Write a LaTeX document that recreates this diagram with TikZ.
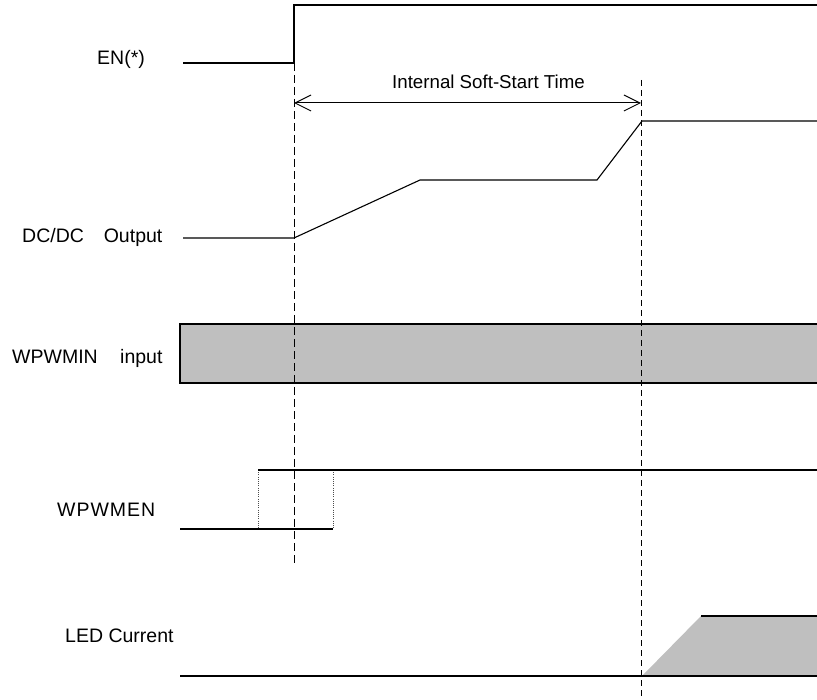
\documentclass[tikz,border=0pt]{standalone}
\usepackage{fontspec}
\setmainfont{Liberation Sans}
\usetikzlibrary{arrows.meta}
\begin{document}
\begin{tikzpicture}[x=1pt,y=-1pt,
  sig/.style={line width=1.1pt,black},
  guide/.style={line width=1pt,black,dash pattern=on 8pt off 4pt},
  guidetwo/.style={line width=1pt,black,dash pattern=on 6pt off 4pt},
  dotv/.style={line width=0.9pt,black!70,dash pattern=on 1pt off 1.2pt},
  lbl/.style={anchor=base west,inner sep=0pt,font=\fontsize{19.5}{23}\selectfont},
  ttl/.style={anchor=base west,inner sep=0pt,font=\fontsize{18.7}{22}\selectfont},
  shade/.style={fill=black!25}]
\useasboundingbox (0,0) rectangle (817,700);
% labels
\node[lbl] (len) at (97,65) {EN(*)};
\node[lbl] (ldc) at (22,243) {DC/DC\hspace{1.02em}Output};
\node[lbl] (lin) at (12,364) {WPWMIN\hspace{1.15em}input};
\node[lbl] (lmen) at (57,516) {\addfontfeature{LetterSpace=5}WPWMEN};
\node[lbl] (lled) at (65,642) {LED Current};
% EN
\coordinate (ena) at (183,63);
\coordinate (enb) at (294,63);
\coordinate (enc) at (294,5);
\coordinate (end) at (818,5);
\draw[sig] (ena) -- (enb) -- (enc) -- (end);
% soft start arrow
\coordinate (aL) at (294,103);
\coordinate (aR) at (641,103);
\draw[line width=1pt,{Straight Barb[length=16pt,width=16pt,line width=1pt]}-{Straight Barb[length=16pt,width=16pt,line width=1pt]}] (aL) -- (aR);
\node[ttl] (lss) at (392,89) {Internal Soft-Start Time};
% DC/DC output
\coordinate (d0) at (183,238);
\coordinate (d1) at (294,238);
\coordinate (d2) at (420,180);
\coordinate (d3) at (597,180);
\coordinate (d4) at (642,121);
\coordinate (d5) at (818,121);
\draw[sig] (d0) -- (d1) -- (d2) -- (d3) -- (d4) -- (d5);
% WPWMIN box
\draw[line width=1.1pt,shade] (180,324) rectangle (819,383);
% WPWMEN
\coordinate (m0) at (180,529);
\coordinate (m1) at (333,529);
\coordinate (m2) at (258,470);
\coordinate (m3) at (818,470);
\draw[dotv] (258,470) -- (258,529);
\draw[dotv] (333,470) -- (333,529);
\draw[sig] (m0) -- (m1);
\draw[sig] (m2) -- (m3);
% LED current
\coordinate (l0) at (180,676);
\coordinate (l1) at (642,676);
\coordinate (l2) at (701,616);
\coordinate (l3) at (818,616);
\coordinate (l4) at (818,676);
\fill[black!25] (l1) -- (l2) -- (l3) -- (l4) -- cycle;
\draw[sig] (l0) -- (l4);
\draw[sig] (l2) -- (l3);
% guides
\coordinate (g1t) at (294,63);
\coordinate (g1b) at (294,566);
\coordinate (g2t) at (641,80);
\coordinate (g2b) at (641,700);
\draw[guide] (g1t) -- (g1b);
\draw[guidetwo] (g2t) -- (g2b);
\end{tikzpicture}
\end{document}
